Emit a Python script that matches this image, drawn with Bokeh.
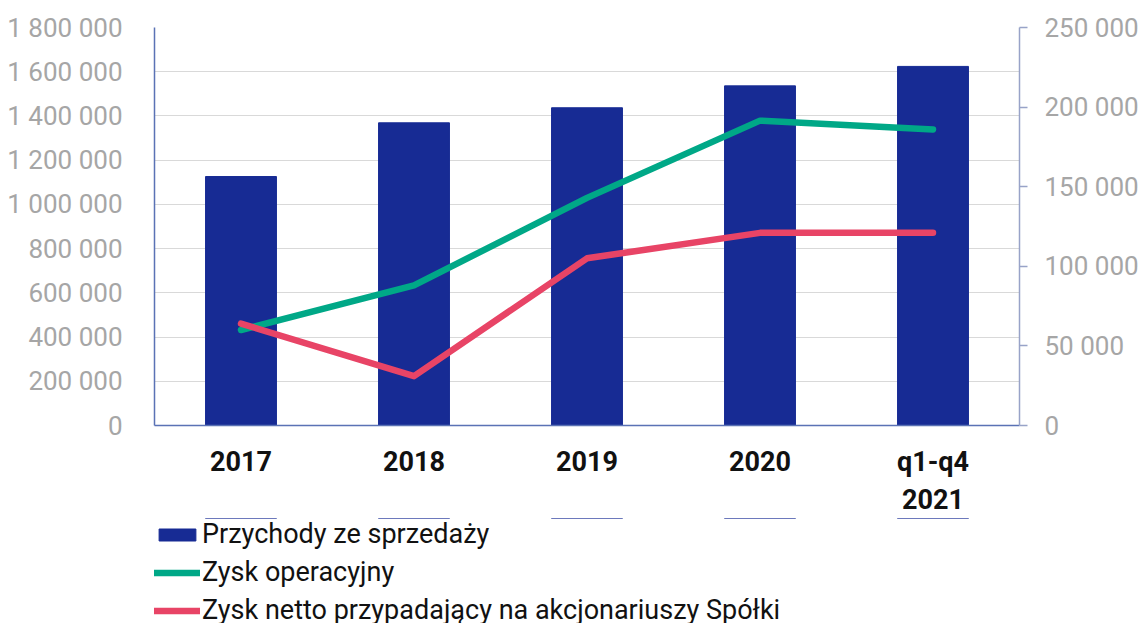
from bokeh.plotting import figure
from bokeh.layouts import column
from bokeh.models import (FactorRange, Range1d, LinearAxis, FixedTicker, Legend, LegendItem,
                          ColumnDataSource)
from bokeh.embed import file_html
from bokeh.resources import INLINE

categories = ["2017", "2018", "2019", "2020", "q1-q4\n2021"]
revenue = [1126000, 1369000, 1437000, 1536000, 1624000]
operating_profit = [60000, 88000, 143000, 191500, 186000]
net_profit = [64000, 31000, 105000, 121000, 121000]
series_names = ["Przychody ze sprzedaży", "Zysk operacyjny",
                "Zysk netto przypadający na akcjonariuszy Spółki"]
left_ticks = [0, 200000, 400000, 600000, 800000, 1000000, 1200000, 1400000, 1600000, 1800000]
left_tick_labels = ["0", "200 000", "400 000", "600 000", "800 000", "1 000 000",
                    "1 200 000", "1 400 000", "1 600 000", "1 800 000"]
right_ticks = [0, 50000, 100000, 150000, 200000, 250000]
right_tick_labels = ["0", "50 000", "100 000", "150 000", "200 000", "250 000"]

BAR = "#172B94"
GREEN = "#00A887"
RED = "#E84466"
TICK_GRAY = "#A6A6A6"

source = ColumnDataSource(dict(cat=categories, rev=revenue, op=operating_profit, net=net_profit))

p = figure(x_range=FactorRange(*categories), y_range=Range1d(0, 1800000),
           frame_width=865, frame_height=398, output_backend="svg", toolbar_location=None,
           min_border_left=154, min_border_right=125, min_border_top=27,
           min_border_bottom=90)
p.extra_y_ranges = {"right": Range1d(0, 250000)}
p.outline_line_color = None
p.background_fill_color = "white"

bars = p.vbar(x="cat", top="rev", width=0.41, color=BAR, source=source)
l1 = p.line(x="cat", y="op", y_range_name="right", color=GREEN, source=source,
            line_width=6.5, line_cap="round", line_join="round")
l2 = p.line(x="cat", y="net", y_range_name="right", color=RED, source=source,
            line_width=6.5, line_cap="round", line_join="round")

# grids
p.xgrid.grid_line_color = None
p.ygrid.grid_line_color = "#D9D9D9"
p.ygrid.grid_line_width = 1.2
p.ygrid.ticker = FixedTicker(ticks=left_ticks)

# left axis
ya = p.yaxis[0]
ya.ticker = FixedTicker(ticks=left_ticks)
ya.major_label_overrides = dict(zip(left_ticks, left_tick_labels))
ya.axis_line_color = "#5A72B5"
ya.axis_line_width = 1.5
ya.major_tick_line_color = None
ya.minor_tick_line_color = None
ya.major_label_standoff = 26
ya.major_label_text_font = "Roboto"
ya.major_label_text_font_size = "26px"
ya.major_label_text_color = TICK_GRAY

# right axis
ra = LinearAxis(y_range_name="right", ticker=FixedTicker(ticks=right_ticks))
ra.major_label_overrides = dict(zip(right_ticks, right_tick_labels))
ra.axis_line_color = "#98A3C8"
ra.axis_line_width = 1.5
ra.major_tick_line_color = "#98A3C8"
ra.major_tick_line_width = 1.5
ra.major_tick_out = 8
ra.major_tick_in = 0
ra.minor_tick_line_color = None
ra.major_label_standoff = 17
ra.major_label_text_font = "Roboto"
ra.major_label_text_font_size = "26px"
ra.major_label_text_color = TICK_GRAY
p.add_layout(ra, "right")

# x axis
xa = p.xaxis[0]
xa.axis_line_color = "#5A72B5"
xa.axis_line_width = 1.5
xa.major_tick_line_color = None
xa.minor_tick_line_color = None
xa.major_label_standoff = 14
xa.major_label_text_font = "Roboto"
xa.major_label_text_font_style = "bold"
xa.major_label_text_font_size = "27px"
xa.major_label_text_color = "#111111"

# legend strip (separate figure below the chart). Its y ranges lie below all values,
# so its renderers stay out of view and only supply the legend swatches.
leg_h = 623 - (27 + 398 + 90)
q = figure(width=1144, height=leg_h, output_backend="svg", toolbar_location=None,
           x_axis_location=None, y_axis_location=None,
           x_range=FactorRange(*categories), y_range=Range1d(-4000000, -2000000),
           min_border_left=0, min_border_right=0, min_border_top=0, min_border_bottom=0)
q.extra_y_ranges = {"right": Range1d(-600000, -300000)}
q.outline_line_color = None
q.xgrid.grid_line_color = None
q.ygrid.grid_line_color = None
lb = q.vbar(x="cat", top="rev", width=0.41, color=BAR, source=source)
lg = q.line(x="cat", y="op", y_range_name="right", color=GREEN, source=source,
            line_width=6.5, line_cap="round")
lr = q.line(x="cat", y="net", y_range_name="right", color=RED, source=source,
            line_width=6.5, line_cap="round")

legend = Legend(items=[LegendItem(label=series_names[0], renderers=[lb]),
                       LegendItem(label=series_names[1], renderers=[lg]),
                       LegendItem(label=series_names[2], renderers=[lr])],
                location=(0, 0), orientation="vertical",
                glyph_width=46, glyph_height=15, label_standoff=2,
                padding=0, margin=0, spacing=6,
                border_line_color=None, background_fill_alpha=0,
                label_text_font="Roboto", label_text_font_size="27px",
                label_text_color="#111111")
q.add_layout(legend, "center")

layout = column(p, q, spacing=0)
open("out.html", "w").write(file_html(layout, INLINE))
